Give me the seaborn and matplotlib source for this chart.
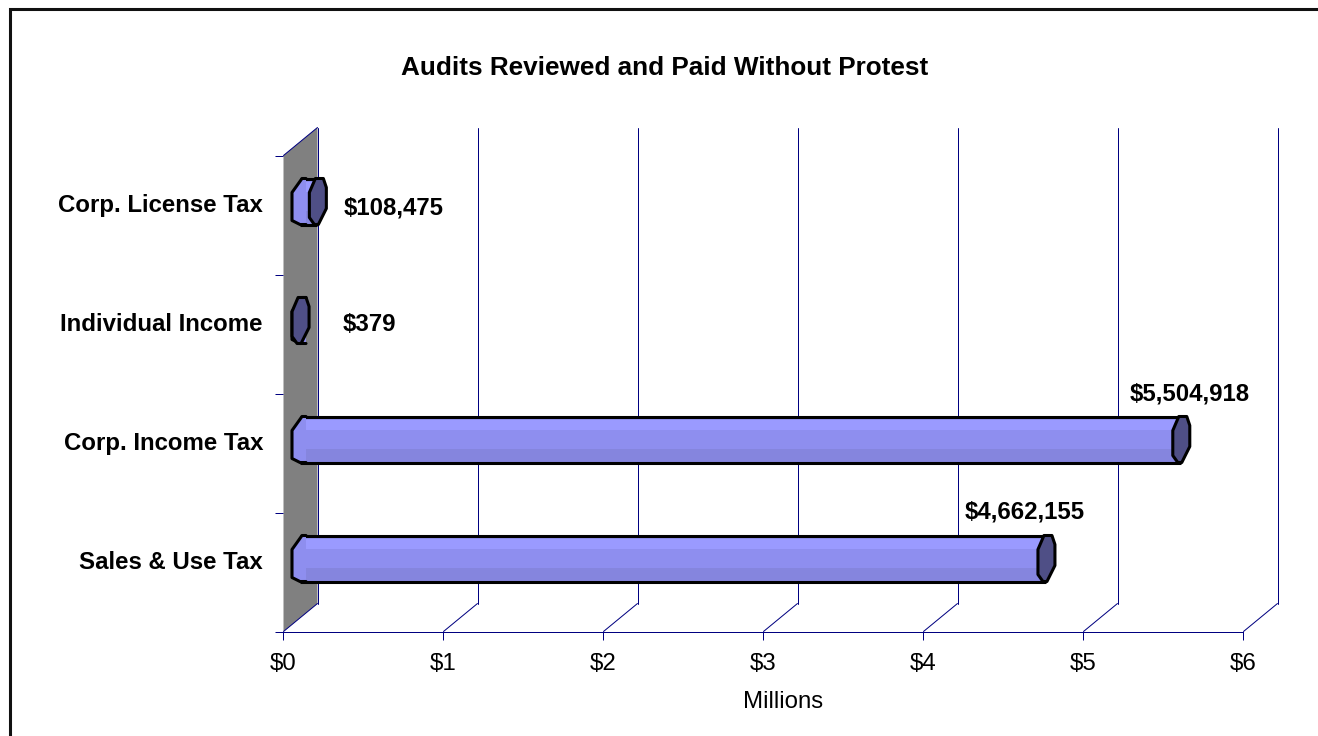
import numpy as np
import pandas as pd
import matplotlib
matplotlib.use('Agg')
import matplotlib.pyplot as plt
import matplotlib.transforms as mtransforms
from matplotlib.patches import Polygon, Rectangle
import seaborn as sns

# --- chart data ---
categories = ["Corp. License Tax", "Individual Income", "Corp. Income Tax", "Sales & Use Tax"]
amounts = [108475, 379, 5504918, 4662155]
value_labels = ["$108,475", "$379", "$5,504,918", "$4,662,155"]
x_ticks = [0, 1, 2, 3, 4, 5, 6]
x_tick_labels = ["$0", "$1", "$2", "$3", "$4", "$5", "$6"]
title = "Audits Reviewed and Paid Without Protest"
x_title = "Millions"

df = pd.DataFrame({"category": categories, "millions": np.array(amounts) / 1e6})

# --- layout / style (pixels at 100 dpi) ---
W, H, DPI = 1318, 736, 100
DEPTH = (34, 28)          # offset of the back wall
BAR_PX = 46               # bar thickness
CAT_PX = 119              # pixels per category
NAVY = '#000080'
BODY = '#8e8eef'
BODY_HI = '#9a9aff'
BODY_LO = '#8585de'
CAP = '#4f4f86'
WALL = '#808080'
FS = 17.3
TITLE_FS = 18.8
GRID_LW = 0.72            # one pixel
# label offsets from (value, category) in px: dx, dy, ha
LABEL_OFFSETS = [(43, 8, 'left'), (60, 10, 'left'), (26, 60, 'center'), (-4, 60, 'center')]

sns.set_theme(style="white")
plt.rcParams['font.family'] = ['Liberation Sans', 'DejaVu Sans']
plt.rcParams['text.color'] = 'black'
plt.rcParams['axes.labelcolor'] = 'black'
plt.rcParams['xtick.labelcolor'] = 'black'

fig = plt.figure(figsize=(W / DPI, H / DPI), dpi=DPI)
ax = fig.add_axes([283 / W, 104 / H, 960 / W, 476 / H])

bar_h = BAR_PX / CAT_PX
sns.barplot(data=df, x="millions", y="category", orient="h", width=bar_h,
            color=BODY, saturation=1, linewidth=0, ax=ax, zorder=3)

ax.set_xlim(0, 6)
ax.set_ylim(3.5, -0.5)
ax.set_autoscale_on(False)

px = lambda v: v / DPI
half = mtransforms.ScaledTranslation(px(DEPTH[0] / 2), px(DEPTH[1] / 2), fig.dpi_scale_trans)
mid = ax.transData + half
for p in ax.patches:
    p.set_transform(mid)

ident = mtransforms.IdentityTransform()


def to_px(x, y, depth=0.0):
    # display position (snapped to pixel centres) of a data point on the front or back plane
    qx, qy = ax.transData.transform((x, y))
    return np.floor(qx + DEPTH[0] * depth) + 0.5, np.floor(qy + DEPTH[1] * depth) + 0.5


# left wall
wall = [to_px(0, -0.5), to_px(0, -0.5, 1), to_px(0, 3.5, 1), to_px(0, 3.5)]
ax.add_patch(Polygon(wall, closed=True, facecolor=WALL, edgecolor='none',
                     transform=ident, clip_on=False, zorder=0.5))
tx, ty = zip(to_px(0, -0.5), to_px(0, -0.5, 1))
ax.plot(tx, ty, color=NAVY, lw=GRID_LW, transform=ident, clip_on=False, zorder=0.6)

# back-wall gridlines and floor lines
for xv in x_ticks:
    bx, by = zip(to_px(xv, 3.5, 1), to_px(xv, -0.5, 1))
    ax.plot(bx, by, color=NAVY, lw=GRID_LW, transform=ident, clip_on=False, zorder=0.6)
    fx, fy = zip(to_px(xv, 3.5), to_px(xv, 3.5, 1))
    ax.plot(fx, fy, color=NAVY, lw=GRID_LW, transform=ident, clip_on=False, zorder=0.6)

# shading bands and outline of the bar bodies
hh = bar_h / 2
band_hi = 10 / CAT_PX
band_lo = 14 / CAT_PX
for i, v in enumerate(df["millions"]):
    ax.barh(i - hh + 3 / CAT_PX + band_hi / 2, v, height=band_hi, left=0, color=BODY_HI,
            linewidth=0, transform=mid, zorder=3.1)
    ax.barh(i + hh - band_lo / 2, v, height=band_lo, left=0, color=BODY_LO,
            linewidth=0, transform=mid, zorder=3.1)
    ax.hlines([i - hh, i + hh], 0, v, colors='black', lw=2.2, transform=mid, zorder=3.2)

bulge = [(2, 23), (-8, 9), (-8, -19), (0, -23)]
cap = [(-2, 23), (6, 23), (9, 14), (9, -7), (1, -23), (-3, -23), (-8, -16), (-8, 9)]
for i, v in enumerate(df["millions"]):
    start = mtransforms.Affine2D() + mtransforms.ScaledTranslation(0, i, ax.transData) + half
    ax.add_patch(Polygon(bulge + [(6, -23), (6, 23)], closed=True, facecolor=BODY,
                         edgecolor='none', transform=start, clip_on=False, zorder=3.3))
    bxs = [6] + [b[0] for b in bulge] + [6]
    bys = [23] + [b[1] for b in bulge] + [-23]
    ax.plot(bxs, bys, color='black', lw=2.2, transform=start, clip_on=False,
            zorder=3.4, solid_joinstyle='round')
    end = mtransforms.Affine2D() + mtransforms.ScaledTranslation(v, i, ax.transData) + half
    ax.add_patch(Polygon(cap, closed=True, facecolor=CAP, edgecolor='black', lw=2.2,
                         joinstyle='round', transform=end, clip_on=False, zorder=3.5))

# data labels
for i, (v, lab) in enumerate(zip(df["millions"], value_labels)):
    dx, dy, ha = LABEL_OFFSETS[i]
    off = mtransforms.ScaledTranslation(px(dx), px(dy), fig.dpi_scale_trans)
    ax.text(v, i, lab, ha=ha, va='center', fontsize=FS, fontweight='bold',
            transform=ax.transData + off, clip_on=False, zorder=5)

# category labels
for i, cat in enumerate(categories):
    off = mtransforms.ScaledTranslation(px(-20), px(10), fig.dpi_scale_trans)
    ax.text(0, i, cat, ha='right', va='center', fontsize=FS, fontweight='bold',
            transform=ax.transData + off, clip_on=False)

# axes styling
for s in ['top', 'right', 'left']:
    ax.spines[s].set_visible(False)
ax.spines['bottom'].set_color(NAVY)
ax.spines['bottom'].set_linewidth(GRID_LW)
ax.set_yticks([-0.5, 0.5, 1.5, 2.5, 3.5], [''] * 5)
ax.set_xticks(x_ticks, x_tick_labels)
ax.tick_params(axis='both', length=5.8, width=GRID_LW, color=NAVY, direction='out')
ax.tick_params(axis='x', pad=9, labelsize=FS, labelcolor='black')
ax.tick_params(left=True, bottom=True)
ax.set_ylabel('')
ax.set_xlabel(x_title, fontsize=FS, color='black')
ax.xaxis.label.set_va('center')
ax.xaxis.set_label_coords((783 - 283) / 960, -(702 - 632) / 476)
ax.grid(False)

fig.text(665 / W, 1 - 68 / H, title, ha='center', va='center', fontsize=TITLE_FS,
         fontweight='bold', color='black')

# outer frame (only top and left edges are inside the picture)
fig.add_artist(Rectangle((10 / W, -0.2), 1.5, 1.2 - 9 / H, transform=fig.transFigure,
                         fill=False, edgecolor='#111111', lw=2.2))

fig.savefig('out.png', dpi=DPI)
